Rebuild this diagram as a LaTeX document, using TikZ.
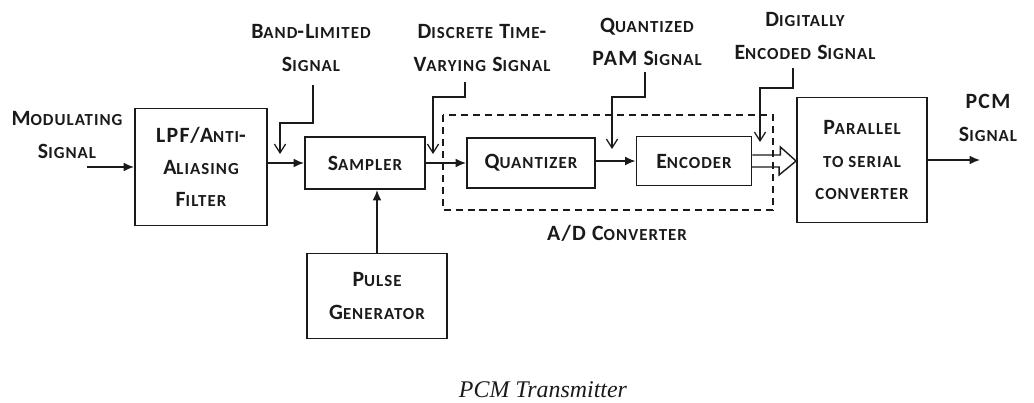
\documentclass[tikz,border=0pt]{standalone}
\usepackage{fontspec}
\newfontfamily\blkfont[LetterSpace=6]{Carlito}
\newfontfamily\capfont{Liberation Serif}
\usetikzlibrary{positioning, arrows.meta}
\definecolor{ink}{HTML}{1A1A1A}
% fake small caps: rest of word in smaller capitals
\newcommand\lsc[1]{{\fontsize{12}{23}\selectfont\MakeUppercase{#1}}}
\tikzset{
  every node/.style = {text=ink},
  pcmtxt/.style   = {font=\blkfont\bfseries\fontsize{15.5}{23}\selectfont, align=center},
  pcmblk/.style   = {pcmtxt, draw=ink, line width=1.3pt, inner sep=0pt},
  pcmsig/.style   = {-{Latex[length=2.6mm,width=2.2mm]}, draw=ink, line width=1.1pt},
  pcmptr/.style   = {-{Straight Barb[length=2.2mm,width=2.8mm]}, draw=ink, line width=0.9pt},
  pcmbus/.style   = {draw=ink, line width=1pt, line join=miter},
  pcmad/.style    = {draw=ink, dash pattern=on 5pt off 3.5pt, line width=0.9pt},
  pcmcap/.style   = {font=\capfont\itshape\fontsize{17}{20}\selectfont},
}

\begin{document}
\begin{tikzpicture}[x=0.025cm, y=-0.025cm]
\useasboundingbox (0,0) rectangle (1034,402);

% blocks
\node[pcmblk, minimum width=3.3cm, minimum height=2.925cm] (lpf) at (201,167)
  {LPF/A\lsc{nti}-\\A\lsc{liasing}\\F\lsc{ilter}};
\node[pcmblk, minimum width=3.0cm, minimum height=1.3cm] (samp) at (365,163) {S\lsc{ampler}};
\node[pcmblk, minimum width=3.2cm, minimum height=1.25cm] (quant) at (531,163) {Q\lsc{uantizer}};
\node[pcmblk, minimum width=2.875cm, minimum height=1.225cm] (enc) at (694,161) {E\lsc{ncoder}};
\node[pcmblk, minimum width=3.25cm, minimum height=3.125cm] (pts) at (862,160)
  {P\lsc{arallel}\\\lsc{to serial}\\\lsc{converter}};
\node[pcmblk, minimum width=3.5cm, minimum height=2.125cm] (pulse) at (377,296)
  {P\lsc{ulse}\\G\lsc{enerator}};

% A/D converter
\draw[pcmad] (443,115) rectangle (773,210);
\node[pcmtxt] (adc) at (617,233) {A/D C\lsc{onverter}};

% signal labels
\node[pcmtxt] (modlbl) at (67,135) {M\lsc{odulating}\\S\lsc{ignal}};
\node[pcmtxt] (bllbl) at (311,48) {B\lsc{and}-L\lsc{imited}\\S\lsc{ignal}};
\node[pcmtxt] (dtlbl) at (482,48) {D\lsc{iscrete} T\lsc{ime}-\\V\lsc{arying} S\lsc{ignal}};
\node[pcmtxt] (qplbl) at (647,42) {Q\lsc{uantized}\\PAM S\lsc{ignal}};
\node[pcmtxt] (delbl) at (805,36) {D\lsc{igitally}\\E\lsc{ncoded} S\lsc{ignal}};
\node[pcmtxt] (pcmlbl) at (988,118) {PCM\\S\lsc{ignal}};

% main path
\coordinate (modin) at (87,167);
\coordinate (pcmout) at (980,160);
\draw[pcmsig] (modin) -- (lpf);
\draw[pcmsig] (lpf.east |- samp) -- (samp);
\draw[pcmsig] (samp) -- (quant.west |- samp);
\draw[pcmsig] (quant.east |- enc) -- (enc);
\draw[pcmsig] (pts) -- (pcmout);
\draw[pcmsig] (pulse) -- (pulse |- samp.south);
% parallel bus
\draw[pcmbus] (enc.east) ++(0,-6) -- ++(28,0) -- ++(0,-8) -- (pts.west |- enc)
  -- ++(-17,14) -- ++(0,-8) -- ++(-28,0);

% pointers
\coordinate (bl1) at (313,85);  \coordinate (bl2) at (280,123); \coordinate (bl3) at (280,154);
\coordinate (dt1) at (465,82);  \coordinate (dt2) at (433,97);  \coordinate (dt3) at (433,154);
\coordinate (qp1) at (645,72);  \coordinate (qp2) at (612,97);  \coordinate (qp3) at (612,149);
\coordinate (de1) at (793,68);  \coordinate (de2) at (760,88);  \coordinate (de3) at (760,142);
\draw[pcmptr] (bl1) |- (bl2) -- (bl3);
\draw[pcmptr] (dt1) |- (dt2) -- (dt3);
\draw[pcmptr] (qp1) |- (qp2) -- (qp3);
\draw[pcmptr] (de1) |- (de2) -- (de3);

\node[pcmcap] (cap) at (543,390) {PCM Transmitter};
\end{tikzpicture}
\end{document}
